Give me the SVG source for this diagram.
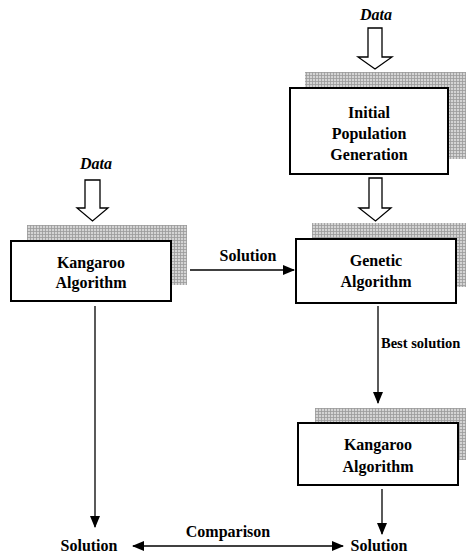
<svg xmlns="http://www.w3.org/2000/svg" width="466" height="556" viewBox="0 0 466 556">
<style>
text{font-family:'Liberation Serif','Times New Roman',serif;font-weight:bold;font-size:16px;fill:#000;text-anchor:middle}
.it{font-style:italic}
.box{fill:#fff;stroke:#000;stroke-width:2}
.shadow{fill:url(#grid)}
.hollow{fill:#fff;stroke:#000;stroke-width:1.3}
.ln{stroke:#000;stroke-width:1.3;fill:none}
</style>
<defs>
<pattern id="grid" width="3" height="3" patternUnits="userSpaceOnUse">
<rect width="3" height="3" fill="#d4d4d4"/>
<path d="M0 0.5H3M0.5 0V3" stroke="#9a9a9a" stroke-width="0.8"/>
</pattern>
<marker id="ah" markerWidth="12" markerHeight="10" refX="11" refY="5" orient="auto-start-reverse" markerUnits="userSpaceOnUse">
<path d="M0 0L12 5L0 10Z" fill="#000"/>
</marker>
</defs>

<g id="data-top">
<text class="it" x="376" y="20">Data</text>
<path class="hollow" d="M368 28H382V57H392L375 69L358 57H368Z"/>
</g>

<g id="initial">
<rect class="shadow" x="305" y="72" width="161" height="87"/>
<rect class="box" x="290" y="88" width="158" height="86"/>
<text x="369" y="118">Initial</text>
<text x="369" y="139">Population</text>
<text x="369" y="160">Generation</text>
</g>

<g id="arrow-mid">
<path class="hollow" d="M369 178H382V208H391L375.5 221L359 208H369Z"/>
</g>

<g id="data-left">
<text class="it" x="96" y="169">Data</text>
<path class="hollow" d="M85 180H100V208H108L92.5 221L77 208H85Z"/>
</g>

<g id="kangaroo1">
<rect class="shadow" x="27" y="225" width="160" height="60"/>
<rect class="box" x="11" y="241" width="160" height="60"/>
<text x="91" y="268">Kangaroo</text>
<text x="91" y="288">Algorithm</text>
</g>

<g id="genetic">
<rect class="shadow" x="312" y="223" width="154" height="64"/>
<rect class="box" x="296" y="239" width="160" height="64"/>
<text x="376" y="266">Genetic</text>
<text x="376" y="287">Algorithm</text>
</g>

<g id="kangaroo2">
<rect class="shadow" x="315" y="408" width="151" height="52"/>
<rect class="box" x="298" y="423" width="160" height="62"/>
<text x="378" y="450">Kangaroo</text>
<text x="378" y="472">Algorithm</text>
</g>

<g id="connectors">
<line class="ln" x1="190" y1="270" x2="294" y2="270" marker-end="url(#ah)"/>
<line class="ln" x1="378" y1="306" x2="378" y2="403" marker-end="url(#ah)"/>
<line class="ln" x1="95" y1="306" x2="95" y2="527" marker-end="url(#ah)"/>
<line class="ln" x1="382" y1="489" x2="382" y2="534" marker-end="url(#ah)"/>
<line class="ln" x1="133" y1="546" x2="343" y2="546" marker-start="url(#ah)" marker-end="url(#ah)"/>
</g>

<g id="labels">
<text x="248" y="261">Solution</text>
<text x="381" y="348" style="text-anchor:start;font-size:14.5px">Best solution</text>
<text x="228" y="537">Comparison</text>
<text x="89" y="551">Solution</text>
<text x="379" y="551">Solution</text>
</g>
</svg>
